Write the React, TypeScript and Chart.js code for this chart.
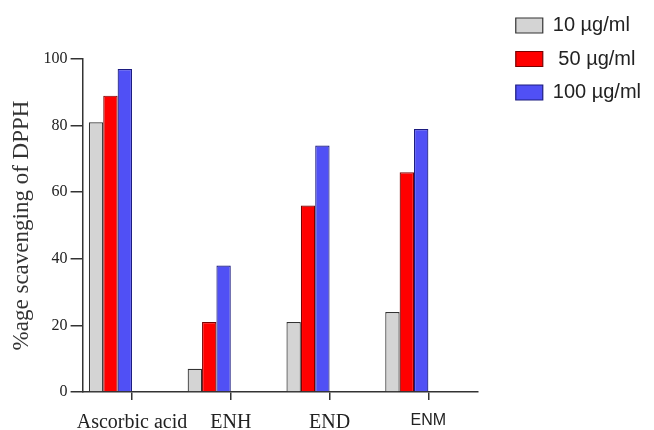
import React, { useEffect, useRef } from "react";
import { Chart, registerables } from "chart.js";

Chart.register(...registerables);

const categories = ["Ascorbic acid", "ENH", "END", "ENM"];
const seriesLabels = ["10 µg/ml", " 50 µg/ml", "100 µg/ml"];
const values10 = [81, 7, 21, 24];
const values50 = [89, 21, 56, 66];
const values100 = [97, 38, 74, 79];
const yTicks = [0, 20, 40, 60, 80, 100];
const spacerCount = 3;

const fills = ["#d4d4d4", "#ff0000", "#5050f5"];
const borders = ["#333333", "#7a0000", "#1c1c80"];

export default function App() {
  const ref = useRef<HTMLCanvasElement | null>(null);

  useEffect(() => {
    if (!ref.current) return;
    const series = [values10, values50, values100];
    const datasets: any[] = series.map((vals, i) => ({
      label: seriesLabels[i],
      data: vals,
      backgroundColor: fills[i],
      borderColor: borders[i],
      borderWidth: 1.2,
      xAxisID: "x",
      yAxisID: "y",
    }));
    for (let i = 0; i < spacerCount; i++) {
      datasets.push({
        label: "",
        data: categories.map(() => null),
        xAxisID: "x",
        yAxisID: "y",
      });
    }
    const chart = new Chart(ref.current, {
      type: "bar",
      data: { labels: categories, datasets },
      options: {
        animation: false,
        responsive: false,
        events: [],
        layout: { padding: { left: 8, right: 3, top: 2, bottom: 0 } },
        datasets: { bar: { categoryPercentage: 0.873, barPercentage: 1 } },
        plugins: {
          tooltip: { enabled: false },
          legend: {
            position: "right",
            align: "start",
            maxWidth: 260,
            labels: {
              filter: (item: any) => item.text !== "",
              boxWidth: 27,
              boxHeight: 15,
              padding: 13.5,
              color: "#222",
              font: { family: "Liberation Sans", size: 20 },
            },
          },
        },
        scales: {
          x: {
            type: "category",
            offset: true,
            afterFit: (s: any) => {
              s.height = 38;
            },
            grid: {
              offset: false,
              drawOnChartArea: false,
              drawTicks: true,
              tickLength: 8,
              color: "#333",
              lineWidth: 1.5,
            },
            border: { display: true, color: "#333", width: 1.5 },
            ticks: {
              color: "#222",
              padding: 11,
              autoSkip: false,
              maxRotation: 0,
              minRotation: 0,
              font: (ctx: any) =>
                ctx.index === 3
                  ? { family: "Liberation Sans", size: 16 }
                  : { family: "Liberation Serif", size: 20 },
            },
          },
          y: {
            type: "linear",
            min: 0,
            max: 100,
            afterBuildTicks: (scale: any) => {
              scale.ticks = yTicks.map((v) => ({ value: v }));
            },
            grid: {
              drawOnChartArea: false,
              drawTicks: true,
              tickLength: 12,
              color: "#333",
              lineWidth: 1.5,
            },
            border: { display: true, color: "#333", width: 1.5 },
            ticks: {
              color: "#222",
              padding: 3,
              font: { family: "Liberation Serif", size: 16 },
            },
            title: {
              display: true,
              text: "%age scavenging of DPPH",
              color: "#333",
              font: { family: "Liberation Serif", size: 23 },
              padding: { top: 0, bottom: 5 },
            },
          },
          yPad: {
            type: "linear",
            position: "right",
            display: true,
            grid: { display: false },
            border: { display: false },
            ticks: { display: false },
            afterFit: (s: any) => {
              s.width = 24.5;
            },
          },
          xPad: {
            type: "linear",
            axis: "x",
            position: "top",
            display: true,
            grid: { display: false },
            border: { display: false },
            ticks: { display: false },
            afterFit: (s: any) => {
              s.height = 57;
            },
          },
        },
      } as any,
    });
    return () => chart.destroy();
  }, []);

  return (
    <div style={{ position: "absolute", left: 0, top: 0, width: 654, height: 430, background: "#fff" }}>
      <canvas ref={ref} width={654} height={430} style={{ display: "block" }} />
    </div>
  );
}
